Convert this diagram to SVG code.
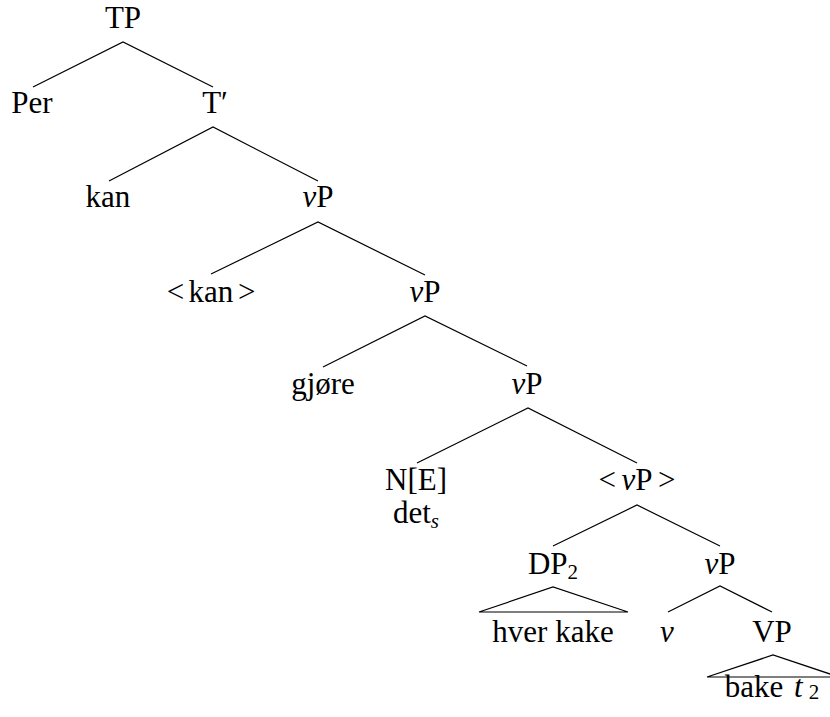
<svg xmlns="http://www.w3.org/2000/svg" width="830" height="717" viewBox="0 0 830 717">
  <style>
    .edge { stroke: #000; stroke-width: 1.2; fill: none; }
  </style>
  <rect width="830" height="717" fill="#fff"/>

  <!-- branches of the tree -->
  <g id="connectors">
    <polyline class="edge" points="33,87 123,42 213,87"/>
    <polyline class="edge" points="109,181 213,127 318,181"/>
    <polyline class="edge" points="211,274 318,222 425,275"/>
    <polyline class="edge" points="323,367 425,316 527,366"/>
    <polyline class="edge" points="417,463 528,408 637,463"/>
    <polyline class="edge" points="553,546 637,505 720,546"/>
    <polyline class="edge" points="668,612 720,586 772,612"/>
    <!-- roof triangles -->
    <polygon class="edge" points="479,612 553,587 628,612"/>
    <polygon class="edge" points="707,677 773,655 839,677"/>
  </g>

  <g id="node-TP"><text x="123" y="28" font-size="31" font-family="Liberation Serif" text-anchor="middle">TP</text></g>
  <g id="node-Per"><text x="32" y="113" font-size="31" font-family="Liberation Serif" text-anchor="middle">Per</text></g>
  <g id="node-Tbar"><text x="215" y="113" font-size="31" font-family="Liberation Serif" text-anchor="middle">T&#x2032;</text></g>
  <g id="node-kan"><text x="108" y="207" font-size="31" font-family="Liberation Serif" text-anchor="middle">kan</text></g>
  <g id="node-vP1"><text x="318" y="207" font-size="31" font-family="Liberation Serif" text-anchor="middle"><tspan font-style="italic">v</tspan>P</text></g>
  <g id="node-kan-copy"><text x="211" y="302" font-size="31" font-family="Liberation Serif" text-anchor="middle">&lt;<tspan dx="4.5">kan</tspan><tspan dx="4.5">&gt;</tspan></text></g>
  <g id="node-vP2"><text x="425" y="302" font-size="31" font-family="Liberation Serif" text-anchor="middle"><tspan font-style="italic">v</tspan>P</text></g>
  <g id="node-gjore"><text x="323" y="394" font-size="31" font-family="Liberation Serif" text-anchor="middle">gj&#xF8;re</text></g>
  <g id="node-vP3"><text x="527" y="394" font-size="31" font-family="Liberation Serif" text-anchor="middle"><tspan font-style="italic">v</tspan>P</text></g>
  <g id="node-NE">
    <text x="416" y="490" font-size="31" font-family="Liberation Serif" text-anchor="middle">N[E]</text>
    <text x="416" y="523" font-size="31" font-family="Liberation Serif" text-anchor="middle">det<tspan font-style="italic" font-size="21" dy="5">s</tspan></text>
  </g>
  <g id="node-vP-copy"><text x="637" y="490" font-size="31" font-family="Liberation Serif" text-anchor="middle">&lt;<tspan font-style="italic" dx="5.5">v</tspan>P<tspan dx="5.5">&gt;</tspan></text></g>
  <g id="node-DP2"><text x="553" y="574" font-size="31" font-family="Liberation Serif" text-anchor="middle">DP<tspan font-size="21" dy="5">2</tspan></text></g>
  <g id="node-vP4"><text x="720" y="574" font-size="31" font-family="Liberation Serif" text-anchor="middle"><tspan font-style="italic">v</tspan>P</text></g>
  <g id="node-hver-kake"><text x="553" y="642" font-size="31" font-family="Liberation Serif" text-anchor="middle">hver kake</text></g>
  <g id="node-v"><text x="667" y="642" font-size="31" font-family="Liberation Serif" font-style="italic" text-anchor="middle">v</text></g>
  <g id="node-VP"><text x="772" y="642" font-size="31" font-family="Liberation Serif" text-anchor="middle">VP</text></g>
  <g id="node-bake"><text x="772" y="697" font-size="31" font-family="Liberation Serif" text-anchor="middle">bake <tspan font-style="italic" dx="3">t</tspan><tspan font-size="21" dx="6" dy="2">2</tspan></text></g>
</svg>
